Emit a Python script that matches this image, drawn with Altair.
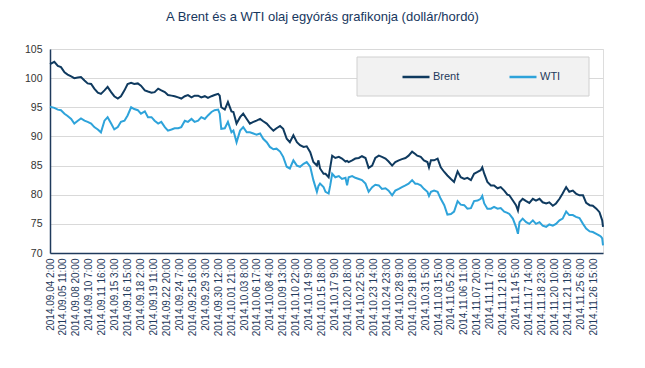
import altair as alt
import pandas as pd

title_text = "A Brent és a WTI olaj egyórás grafikonja (dollár/hordó)"

tick_labels = [
    "2014.09.04 2:00", "2014.09.05 11:00", "2014.09.08 20:00", "2014.09.10 7:00",
    "2014.09.11 16:00", "2014.09.15 3:00", "2014.09.16 15:00", "2014.09.18 2:00",
    "2014.09.19 11:00", "2014.09.22 20:00", "2014.09.24 7:00", "2014.09.25 16:00",
    "2014.09.29 3:00", "2014.09.30 12:00", "2014.10.01 21:00", "2014.10.03 8:00",
    "2014.10.06 17:00", "2014.10.08 4:00", "2014.10.09 13:00", "2014.10.10 22:00",
    "2014.10.14 9:00", "2014.10.15 18:00", "2014.10.17 9:00", "2014.10.20 18:00",
    "2014.10.22 5:00", "2014.10.23 14:00", "2014.10.24 23:00", "2014.10.28 9:00",
    "2014.10.29 18:00", "2014.10.31 5:00", "2014.11.03 15:00", "2014.11.05 2:00",
    "2014.11.06 11:00", "2014.11.07 20:00", "2014.11.11 7:00", "2014.11.12 16:00",
    "2014.11.14 5:00", "2014.11.17 14:00", "2014.11.18 23:00", "2014.11.20 10:00",
    "2014.11.21 19:00", "2014.11.25 6:00", "2014.11.26 15:00",
]

# hourly index (0 = 2014.09.04 2:00), one label every 33 hours
hours = [
    0, 11, 20, 28, 37, 45, 54, 62, 71, 79, 88, 96, 105, 113, 122, 130, 139, 147, 156, 164,
    173, 181, 190, 198, 207, 215, 224, 232,
    242, 250, 259, 267, 276, 284, 293, 301, 310, 318, 327, 335, 344, 352, 361, 369, 378, 386,
    395, 403, 412, 420, 429, 433, 437, 446, 454, 463,
    468, 476, 485, 493, 502, 510, 519, 527, 536, 544, 553, 561, 570, 578, 587, 595, 604, 612,
    621, 630, 638, 647, 655, 664, 672, 681, 685, 689, 698,
    703, 711, 715, 720, 728, 737, 745, 754, 758, 762, 771, 779, 788, 796, 805, 813, 822, 830,
    839, 847, 856, 864, 873, 881, 890, 898, 907, 915, 924, 932,
    937, 946, 954, 963, 967, 972, 980, 989, 997, 1006, 1014, 1023, 1031, 1040, 1048, 1057,
    1065, 1074, 1082, 1091, 1099, 1103, 1108, 1116, 1125, 1133, 1142, 1150, 1159, 1167,
    1172, 1181, 1189, 1194, 1198, 1206, 1215, 1223, 1232, 1240, 1249, 1257, 1266, 1274, 1283,
    1291, 1300, 1308, 1317, 1325, 1334, 1342, 1351, 1360, 1368, 1377, 1385, 1394, 1402, 1406,
    1409, 1411,
]

brent = [
    102.4, 102.8, 102.1, 101.9, 101.0, 100.6, 100.3, 100.0, 100.1, 100.2, 99.6, 99.1, 99.0,
    98.2, 97.5, 97.3, 97.9, 98.5, 97.6, 96.9, 96.5, 96.9, 97.9, 99.0, 99.2, 99.0, 99.1, 98.7,
    97.9, 97.7, 97.5, 97.6, 98.2, 97.9, 97.6, 97.1, 97.0, 96.9, 96.7, 96.5, 96.9, 97.1, 96.7,
    97.0, 97.0, 96.7, 96.9, 96.6, 96.9, 97.1, 97.3, 97.0, 95.0, 94.6, 95.9, 94.3,
    94.2, 92.2, 93.3, 93.9, 93.0, 92.2, 92.5, 92.7, 93.0, 92.6, 92.2, 91.6, 91.0, 91.4, 91.8,
    91.3, 89.6, 89.0, 90.2, 89.0, 88.5, 88.2, 88.3, 87.3, 85.6, 85.0, 85.9, 84.5, 83.6,
    83.6, 83.0, 84.7, 86.7, 86.3, 86.5, 86.2, 85.7, 85.8, 85.6, 85.9, 86.2, 86.3, 86.6, 86.3,
    84.6, 85.0, 86.3, 86.7, 86.5, 86.2, 85.7, 85.0, 85.6, 85.9, 86.1, 86.3, 86.7, 87.4, 87.0,
    86.7, 86.5, 85.9, 85.6, 84.7, 85.9, 85.9, 86.2, 84.7, 83.9, 83.3, 82.7, 82.2, 84.0, 83.0,
    82.7, 82.9, 82.5, 83.6, 83.9, 84.2, 84.7, 83.6, 82.2, 81.6, 81.6, 81.1, 81.3, 80.7, 80.0,
    79.9, 79.0, 78.2, 77.3, 78.7, 79.3, 78.9, 78.6, 79.3, 79.0, 79.3, 78.7, 78.5, 78.7, 78.1,
    78.5, 79.3, 80.2, 81.3, 80.5, 80.7, 80.2, 79.9, 79.9, 78.6, 78.2, 78.1, 77.6, 77.0, 76.2,
    75.6, 74.5,
]

wti = [
    95.1, 94.9, 94.6, 94.5, 93.9, 93.5, 93.0, 92.2, 92.7, 93.1, 92.7, 92.5, 92.2, 91.6, 91.2,
    90.7, 92.7, 93.3, 92.2, 91.2, 91.6, 92.5, 92.7, 93.6, 95.0, 94.7, 94.5, 93.9,
    94.3, 93.3, 93.3, 92.7, 92.2, 92.5, 91.6, 91.0, 91.2, 91.4, 91.4, 91.6, 92.7, 92.5, 93.0,
    92.5, 92.7, 93.3, 93.0, 93.6, 94.2, 94.5, 94.6, 93.9, 91.3, 91.4, 92.5, 90.7,
    91.0, 89.0, 91.0, 91.6, 90.7, 90.7, 90.5, 90.3, 90.5, 89.6, 89.0, 88.2, 87.8, 87.9, 87.4,
    86.5, 84.8, 84.5, 85.9, 85.0, 84.8, 85.3, 85.6, 84.8, 82.5, 80.5, 81.5, 81.9, 81.3,
    80.5, 80.2, 81.6, 83.6, 83.0, 83.2, 82.7, 82.9, 81.6, 83.0, 83.2, 82.9, 82.7, 82.5, 81.9,
    80.5, 81.3, 81.7, 81.6, 81.0, 81.1, 80.7, 79.9, 80.7, 81.0, 81.3, 81.6, 81.9, 82.5, 81.9,
    81.9, 81.6, 81.0, 80.5, 79.8, 80.5, 80.7, 80.5, 79.3, 78.2, 76.6, 76.7, 77.1, 78.9, 78.3,
    78.2, 77.6, 77.7, 78.9, 79.0, 79.3, 79.8, 78.5, 77.6, 77.6, 77.9, 77.6, 77.7, 77.1, 76.9,
    76.7, 75.9, 74.5, 73.3, 75.3, 75.9, 75.3, 75.0, 75.6, 75.0, 75.3, 74.7, 74.5, 74.9, 74.7,
    75.0, 75.6, 75.9, 77.1, 76.5, 76.5, 76.2, 76.0, 75.0, 74.2, 73.7, 73.6, 73.3, 73.0, 72.8,
    72.5, 71.3,
]

series_names = ["Brent", "WTI"]
series_colors = ["#0f3a5f", "#2ea3da"]

rows = []
for h, b, w in zip(hours, brent, wti):
    rows.append({"hour": h, "series": "Brent", "price": b})
    rows.append({"hour": h, "series": "WTI", "price": w})
df = pd.DataFrame(rows)

label_every = 33
tick_values = [i * label_every for i in range(len(tick_labels))]
label_expr = "[" + ",".join("'" + s + "'" for s in tick_labels) + "][round(datum.value / 33)]"

text_color = "#1f3a5c"

box = alt.Chart(pd.DataFrame({"k": [0]})).mark_rect(
    fill="#f2f2f2", stroke="#d0d0d0", strokeWidth=1
).encode(
    x=alt.value(307), x2=alt.value(539), y=alt.value(8), y2=alt.value(47)
)

lines = alt.Chart(df).mark_line(strokeWidth=2).encode(
    x=alt.X(
        "hour:Q",
        scale=alt.Scale(domain=[0, 1411], nice=False, zero=False),
        axis=alt.Axis(
            values=tick_values, labelExpr=label_expr, labelAngle=-90, grid=False,
            ticks=False, title=None, labelFontSize=10, labelColor=text_color,
            labelPadding=5, domainColor=text_color, domainWidth=1.5,
            labelFont="Liberation Sans", labelOverlap=False, labelBound=False,
            labelFlush=False,
        ),
    ),
    y=alt.Y(
        "price:Q",
        scale=alt.Scale(domain=[70, 105], nice=False, zero=False),
        axis=alt.Axis(
            values=[70, 75, 80, 85, 90, 95, 100, 105], grid=True, gridColor="#d9d9d9",
            ticks=False, title=None, labelFontSize=10.5, labelColor="#333333",
            labelPadding=8, domainColor=text_color, domainWidth=1.5,
            labelFont="Liberation Sans",
        ),
    ),
    color=alt.Color(
        "series:N",
        scale=alt.Scale(domain=series_names, range=series_colors),
        legend=alt.Legend(
            orient="none", legendX=351, legendY=13, direction="horizontal", title=None,
            symbolType="stroke", symbolSize=729, symbolStrokeWidth=2.5,
            labelFontSize=11, labelColor=text_color, labelFont="Liberation Sans",
            columnPadding=44, labelOffset=2,
        ),
    ),
    order="hour:Q",
)

chart = alt.layer(box, lines).properties(
    width=553,
    height=204,
    title=alt.TitleParams(
        text=title_text, anchor="middle", frame="group", offset=20, fontSize=13,
        font="Liberation Sans", fontWeight="normal", color="#17375e", dx=-4,
    ),
    padding={"left": 42, "top": 41, "right": 30, "bottom": 100},
    autosize=alt.AutoSizeParams(type="none"),
).configure_view(stroke=None).configure(background="white")

chart.save("out.html", embed_options={"renderer": "svg", "actions": False})
